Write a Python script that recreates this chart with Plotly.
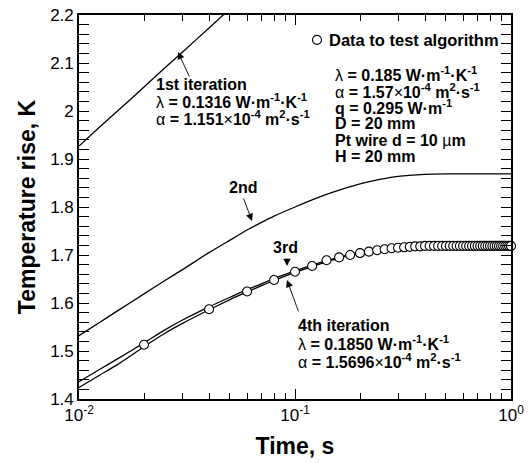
import plotly.graph_objects as go

# ---------------- data ----------------
t_curve = [0.01, 0.0125, 0.015, 0.02, 0.025, 0.03, 0.04, 0.05, 0.06, 0.07, 0.08,
           0.1, 0.12, 0.15, 0.2, 0.25, 0.3, 0.4, 0.5, 0.6, 0.7, 0.8, 1.0]

t_first = [0.01, 0.0125, 0.015, 0.02, 0.025, 0.03, 0.04, 0.05]
T_first = [1.927, 1.967, 1.999, 2.050, 2.090, 2.122, 2.173, 2.213]

T_second = [1.532, 1.560, 1.583, 1.619, 1.647, 1.669, 1.705, 1.731, 1.752, 1.768, 1.781,
            1.800, 1.815, 1.831, 1.848, 1.858, 1.864, 1.868, 1.869, 1.869, 1.869, 1.869, 1.869]

T_third = [1.436, 1.462, 1.483, 1.517, 1.544, 1.564, 1.592, 1.612, 1.628, 1.640, 1.651,
           1.667, 1.679, 1.692, 1.706, 1.713, 1.716, 1.719, 1.720, 1.720, 1.720, 1.720, 1.720]

T_fourth = [1.424, 1.450, 1.471, 1.509, 1.537, 1.557, 1.586, 1.607, 1.623, 1.636, 1.647,
            1.664, 1.676, 1.690, 1.704, 1.711, 1.715, 1.718, 1.719, 1.719, 1.719, 1.719, 1.719]

t_data = [0.02, 0.04, 0.06, 0.08, 0.10, 0.12, 0.14, 0.16, 0.18, 0.20,
          0.22, 0.24, 0.26, 0.28, 0.30, 0.32, 0.34, 0.36, 0.38, 0.40,
          0.42, 0.44, 0.46, 0.48, 0.50, 0.52, 0.54, 0.56, 0.58, 0.60,
          0.62, 0.64, 0.66, 0.68, 0.70, 0.72, 0.74, 0.76, 0.78, 0.80,
          0.82, 0.84, 0.86, 0.88, 0.90, 0.92, 0.94, 0.96, 0.98, 1.00]
T_data = [1.513, 1.587, 1.624, 1.648, 1.665, 1.677, 1.689, 1.695, 1.700, 1.704,
          1.707, 1.710, 1.712, 1.714, 1.715, 1.716, 1.717, 1.718, 1.718, 1.719,
          1.719, 1.719, 1.719, 1.719, 1.719, 1.719, 1.719, 1.719, 1.719, 1.719,
          1.719, 1.719, 1.719, 1.719, 1.719, 1.719, 1.719, 1.719, 1.719, 1.719,
          1.719, 1.719, 1.719, 1.719, 1.719, 1.719, 1.719, 1.719, 1.719, 1.719]

x_tickvals = [0.01, 0.1, 1.0]
x_ticktext = ["10<sup>-2</sup>", "10<sup>-1</sup>", "10<sup>0</sup>"]
x_minor = [0.02, 0.03, 0.04, 0.05, 0.06, 0.07, 0.08, 0.09,
           0.2, 0.3, 0.4, 0.5, 0.6, 0.7, 0.8, 0.9]
y_range = [1.4, 2.2]
y_major_step = 0.1
y_minor_step = 0.02

legend_text = "Data to test algorithm"

# ---------------- figure ----------------
FONT = "Liberation Sans, Arial, Helvetica, sans-serif"
W, H = 531, 463
ML, MR, MT, MB = 79, 20, 15, 64
PW, PH = W - ML - MR, H - MT - MB
TICKC = "black"

def px(xp):
    return (xp - ML) / PW

def py(yp):
    return (H - MB - yp) / PH

fig = go.Figure()
line = dict(color="black", width=1.3, shape="spline", smoothing=0.6)
fig.add_trace(go.Scatter(x=t_first, y=T_first, mode="lines", line=line, showlegend=False))
fig.add_trace(go.Scatter(x=t_curve, y=T_second, mode="lines", line=line, showlegend=False))
fig.add_trace(go.Scatter(x=t_curve, y=T_third, mode="lines", line=line, showlegend=False))
fig.add_trace(go.Scatter(x=t_curve, y=T_fourth, mode="lines", line=line, showlegend=False))
# data circles drawn on the overlay x axis (same range) that carries the minor ticks
fig.add_trace(go.Scatter(x=t_data, y=T_data, mode="markers", name=" ",
                         xaxis="x2", yaxis="y",
                         marker=dict(symbol="circle", size=9, color="white",
                                     line=dict(color="black", width=1.1)),
                         showlegend=True, cliponaxis=False))

tickfont = dict(family=FONT, size=17, color="black")

fig.update_layout(
    width=W, height=H,
    margin=dict(l=ML, r=MR, t=MT, b=MB, autoexpand=False),
    paper_bgcolor="white", plot_bgcolor="white",
    font=dict(family=FONT, color="black"),
    xaxis=dict(type="log", range=[-2, 0], tickmode="array", tickvals=x_tickvals,
               ticktext=x_ticktext, showline=True, linecolor="black", linewidth=1.6,
               mirror="allticks", ticks="inside", ticklen=10, tickwidth=1.2, tickcolor=TICKC,
               showgrid=False, zeroline=False, tickfont=tickfont, layer="above traces",
               title=dict(text="<b>Time, s</b>", font=dict(family=FONT, size=23), standoff=14)),
    xaxis2=dict(type="log", range=[-2, 0], overlaying="x", anchor="y", side="bottom",
                tickmode="array", tickvals=x_minor, showticklabels=False,
                ticks="inside", ticklen=6, tickwidth=1.1, tickcolor=TICKC,
                mirror="allticks", showline=False,
                showgrid=False, zeroline=False),
    yaxis=dict(range=y_range, tickmode="linear", tick0=y_range[0], dtick=y_major_step,
               showline=True, linecolor="black", linewidth=1.6,
               mirror="allticks", ticks="inside", ticklen=10, tickwidth=1.2, tickcolor=TICKC,
               showgrid=False, zeroline=False, tickfont=tickfont, layer="above traces",
               minor=dict(tickmode="linear", tick0=y_range[0], dtick=y_minor_step,
                          ticks="inside", ticklen=6, tickwidth=1.1, tickcolor=TICKC,
                          showgrid=False),
               title=dict(text="<b>Temperature rise, K</b>", font=dict(family=FONT, size=23),
                          standoff=8)),
    legend=dict(x=px(297), y=py(40), xanchor="left", yanchor="middle",
                bgcolor="rgba(0,0,0,0)", borderwidth=0, itemwidth=30,
                font=dict(family=FONT, size=16, color="black"), tracegroupgap=0),
    showlegend=True,
)

def label(xpix, ypix, text, size=16, anchor="left"):
    fig.add_annotation(x=px(xpix), y=py(ypix), xref="paper", yref="paper", text=text,
                       showarrow=False, xanchor=anchor, yanchor="middle", align="left",
                       font=dict(family=FONT, size=size, color="black"))

def arrow(tipx, tipy, tailx, taily):
    fig.add_annotation(x=px(tipx), y=py(tipy), xref="paper", yref="paper", text="",
                       showarrow=True, ax=tailx - tipx, ay=taily - tipy,
                       arrowhead=2, arrowsize=1.6, arrowwidth=0.9, arrowcolor="black",
                       standoff=0, startstandoff=0)

LAM_UNIT = " W·m<sup>-1</sup>·K<sup>-1</sup>"
ALP_UNIT = " m<sup>2</sup>·s<sup>-1</sup>"

# legend text (next to the legend's circle)
label(327, 40, "<b>" + legend_text + "</b>", size=16.5)

# 1st iteration
label(154, 84, "<b>1st iteration</b>")
label(154, 101, "λ<b> = 0.1316" + LAM_UNIT + "</b>")
label(154, 118, "α<b> = 1.151</b>×<b>10<sup>-4</sup>" + ALP_UNIT + "</b>")
arrow(178, 52, 190, 78)

# 2nd
label(242.5, 187, "<b>2nd</b>", anchor="center")
arrow(252, 221, 243, 197)

# 3rd
label(285.5, 248, "<b>3rd</b>", anchor="center")
arrow(287, 266, 287, 257)

# 4th iteration
label(296, 325, "<b>4th iteration</b>")
label(296, 343, "λ<b> = 0.1850" + LAM_UNIT + "</b>")
label(296, 361, "α<b> = 1.5696</b>×<b>10<sup>-4</sup>" + ALP_UNIT + "</b>")
arrow(287, 280, 299, 313)

# parameters block
params = [
    "λ<b> = 0.185" + LAM_UNIT + "</b>",
    "α<b> = 1.57</b>×<b>10<sup>-4</sup>" + ALP_UNIT + "</b>",
    "<b>q = 0.295 W·m<sup>-1</sup></b>",
    "<b>D = 20 mm</b>",
    "<b>Pt wire d = 10 </b>µ<b>m</b>",
    "<b>H = 20 mm</b>",
]
param_y = [73.5, 90.5, 107, 123.5, 140, 156.5]
for txt, yy in zip(params, param_y):
    label(333, yy, txt)

fig.write_html("out.html")
